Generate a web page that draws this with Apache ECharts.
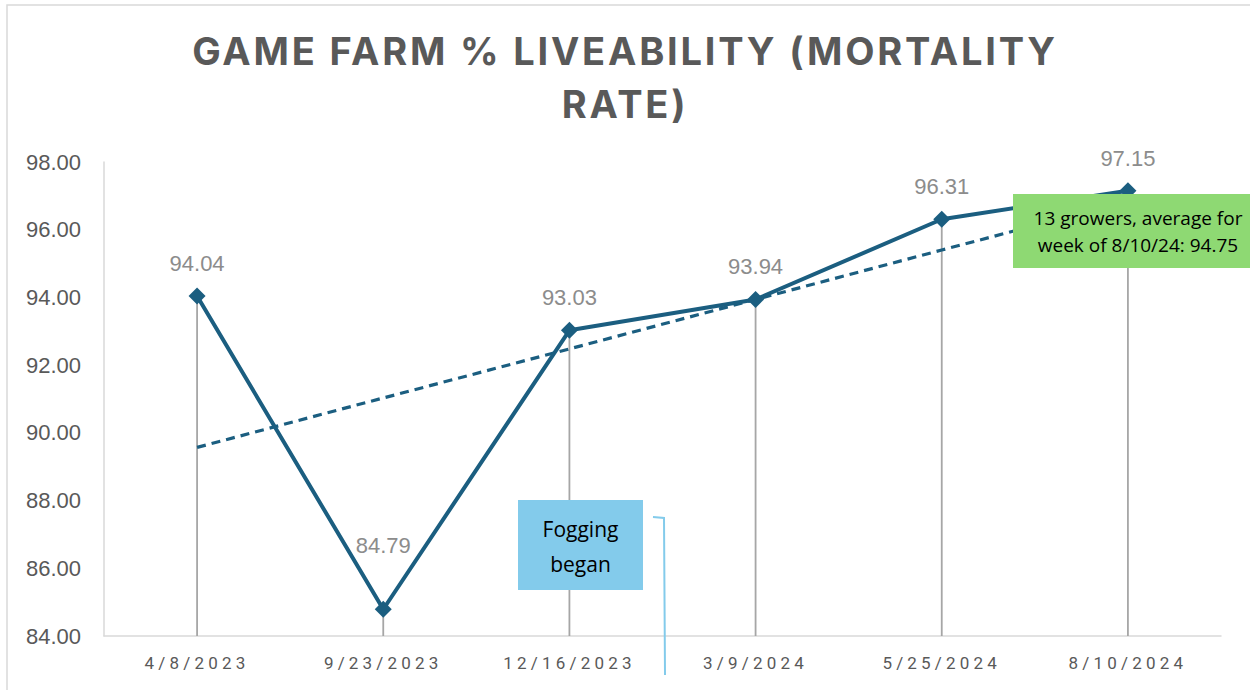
<!DOCTYPE html>
<html>
<head>
<meta charset="utf-8">
<script src="https://cdn.jsdelivr.net/npm/echarts@6/dist/echarts.min.js"></script>
<style>
  html, body { margin: 0; padding: 0; background: #fff; }
  #chart { width: 1250px; height: 690px; }
  /* Excel-style expanded character spacing for the title and the category labels */
  #chart svg text[style*="Roboto"] { letter-spacing: 4.2px; }
  #chart svg text[style*="Inter"] { letter-spacing: 2.8px; }
</style>
</head>
<body>
<div id="chart"></div>
<script>
// Chart data
const dates = ['4/8/2023', '9/23/2023', '12/16/2023', '3/9/2024', '5/25/2024', '8/10/2024'];
const liveability = [94.04, 84.79, 93.03, 93.94, 96.31, 97.15];
// Linear trendline
const trend = [89.57, 91.03, 92.48, 93.94, 95.40, 96.85];
const yTicks = { min: 84, max: 98, step: 2 };

document.addEventListener('DOMContentLoaded', function() {
    const chart = echarts.init(document.getElementById('chart'), null, { renderer: 'svg' });

    const pointData = liveability.map((v, i) => {
        // the low point's label was dragged further up in the original
        if (i === 1) return { value: v, label: { distance: 44 } };
        return v;
    });

    const option = {
        animation: false,
        backgroundColor: '#fff',
        title: {
            text: 'GAME FARM % LIVEABILITY (MORTALITY\nRATE)',
            left: 'center',
            top: 19,
            textStyle: {
                color: '#595959',
                fontFamily: 'Inter',
                fontWeight: 'bold',
                fontSize: 38,
                lineHeight: 53
            }
        },
        grid: { left: 104, right: 29, top: 162, bottom: 54 },
        xAxis: {
            type: 'category',
            data: dates,
            axisLine: { lineStyle: { color: '#d9d9d9', width: 1.5 } },
            axisTick: { show: false },
            axisLabel: {
                color: '#595959',
                fontFamily: 'Roboto',
                fontSize: 17,
                margin: 18
            }
        },
        yAxis: {
            type: 'value',
            min: yTicks.min,
            max: yTicks.max,
            interval: yTicks.step,
            axisLine: { show: true, lineStyle: { color: '#d9d9d9', width: 1.5 } },
            axisTick: { show: false },
            splitLine: { show: false },
            axisLabel: {
                color: '#595959',
                fontFamily: 'Liberation Sans',
                fontSize: 22,
                margin: 23,
                formatter: v => v.toFixed(2)
            }
        },
        series: [
            {
                // drop lines
                type: 'bar',
                data: liveability,
                barWidth: 1.8,
                itemStyle: { color: '#a6a6a6' },
                silent: true,
                z: 1
            },
            {
                name: 'Trend',
                type: 'line',
                data: trend,
                symbol: 'none',
                lineStyle: { color: '#1b5e80', width: 3.2, type: [9, 6] },
                z: 2
            },
            {
                name: 'Liveability',
                type: 'line',
                data: pointData,
                symbol: 'diamond',
                symbolSize: [17, 17],
                lineStyle: { color: '#1b5e80', width: 4 },
                itemStyle: { color: '#1b5e80' },
                label: {
                    show: true,
                    position: 'top',
                    distance: 13,
                    color: '#8c8c8c',
                    fontFamily: 'Liberation Sans',
                    fontSize: 22,
                    formatter: p => p.value.toFixed(2)
                },
                z: 3
            }
        ],
        graphic: [
            {
                type: 'rect',
                shape: { x: 7, y: 5, width: 1300, height: 720 },
                style: { fill: 'none', stroke: '#d9d9d9', lineWidth: 1.5 },
                silent: true
            },
            {
                type: 'rect',
                z: 100,
                shape: { x: 518, y: 500, width: 125, height: 90 },
                style: { fill: '#83cbeb' }
            },
            {
                type: 'text',
                z: 101,
                x: 580.5,
                y: 546,
                style: {
                    text: 'Fogging\nbegan',
                    align: 'center',
                    verticalAlign: 'middle',
                    fill: '#000',
                    fontFamily: 'Open Sans',
                    fontSize: 21,
                    lineHeight: 35
                }
            },
            {
                type: 'polyline',
                z: 100,
                shape: { points: [[653, 517], [664, 518], [665, 675]] },
                style: { stroke: '#83cbeb', lineWidth: 2, fill: 'none' }
            },
            {
                type: 'rect',
                z: 100,
                shape: { x: 1013, y: 194, width: 240, height: 74 },
                style: { fill: '#8ed973' }
            },
            {
                type: 'text',
                z: 101,
                x: 1138,
                y: 231.5,
                style: {
                    text: '13 growers, average for\nweek of 8/10/24: 94.75',
                    align: 'center',
                    verticalAlign: 'middle',
                    fill: '#000',
                    fontFamily: 'Open Sans',
                    fontSize: 19,
                    lineHeight: 27
                }
            }
        ]
    };

    chart.setOption(option);
});
</script>
</body>
</html>
